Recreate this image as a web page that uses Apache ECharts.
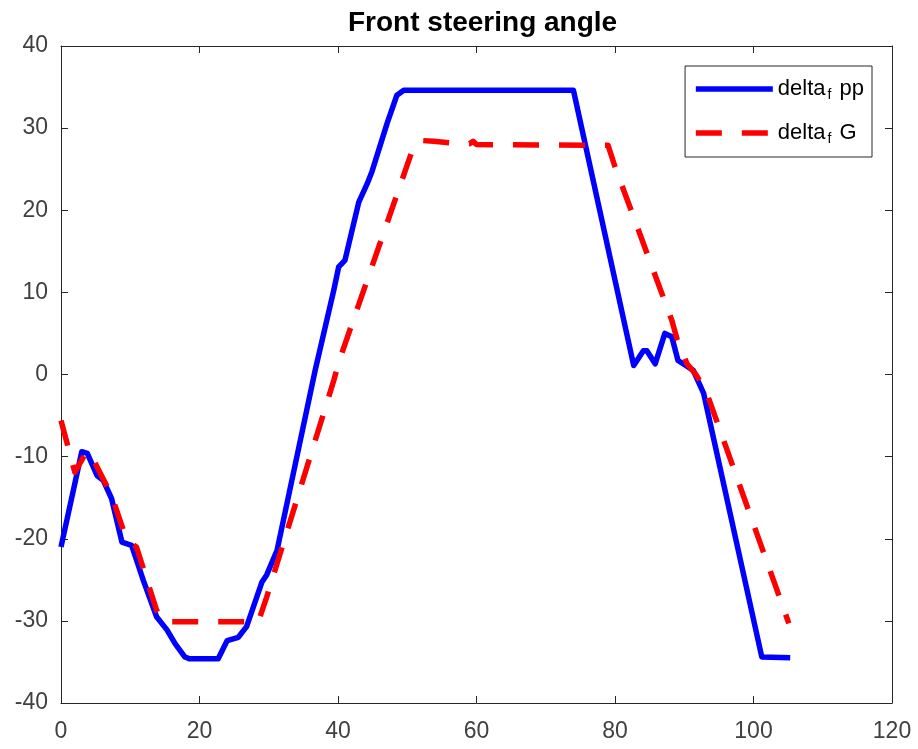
<!DOCTYPE html>
<html>
<head>
<meta charset="utf-8">
<script src="https://cdn.jsdelivr.net/npm/echarts@6/dist/echarts.min.js"></script>
<style>
  html, body { margin: 0; padding: 0; background: #fff; }
  #chart { width: 918px; height: 749px; }
</style>
</head>
<body>
<div id="chart"></div>
<script>
// delta_f pp (solid blue)
const ppX = [0, 3.0, 3.8, 5.2, 6.1, 7.3, 8.8, 10.2, 11.9, 13.8, 15.3, 16.5, 17.9, 18.5, 22.7, 24.0, 25.6, 26.8, 29.0, 29.7, 31.2, 36.7, 39.4, 40.1, 41.0, 43.0, 44.2, 44.9, 47.1, 48.5, 49.5, 74.0, 82.7, 84.1, 84.6, 85.8, 87.2, 88.2, 89.1, 90.6, 91.3, 92.8, 101.2, 105.3];
const ppY = [-21.0, -9.4, -9.6, -12.3, -12.9, -15.1, -20.4, -20.8, -25.1, -29.5, -31.1, -32.8, -34.4, -34.6, -34.6, -32.4, -32.0, -30.7, -25.3, -24.4, -21.4, 0.5, 10.3, 13.1, 13.9, 21.0, 23.2, 24.7, 30.6, 34.0, 34.6, 34.6, 1.1, 2.9, 2.9, 1.3, 5.0, 4.6, 1.7, 0.9, 0.5, -2.3, -34.4, -34.5];

// delta_f G (dashed red)
const gX = [0, 2.0, 3.7, 4.2, 7.3, 9.5, 10.9, 13.8, 14.8, 28.5, 29.7, 39.4, 40.1, 50.9, 51.9, 53.8, 57.7, 59.0, 59.5, 60.0, 79.0, 80.0, 88.2, 89.0, 90.4, 91.6, 93.1, 105.1];
const gY = [-5.6, -11.9, -9.4, -9.6, -14.7, -20.2, -21.0, -28.7, -30.1, -30.1, -27.1, -0.7, 1.5, 27.7, 28.5, 28.4, 28.1, 28.1, 28.4, 28.0, 27.9, 25.3, 6.6, 4.2, 1.3, 0.1, -1.9, -30.3];

const seriesNames = ['delta_f pp', 'delta_f G'];

const chart = echarts.init(document.getElementById('chart'));

const axisColor = '#262626';
const labelColor = '#404040';
const font = 'Liberation Sans, Arial, Helvetica, sans-serif';

const xBase = {
  type: 'value', min: 0, max: 120, interval: 20,
  axisLine: { show: true, onZero: false, lineStyle: { color: axisColor, width: 1 } },
  axisTick: { show: true, inside: true, length: 7, lineStyle: { color: axisColor } },
  splitLine: { show: false }
};
const yBase = {
  type: 'value', min: -40, max: 40, interval: 10,
  axisLine: { show: true, onZero: false, lineStyle: { color: axisColor, width: 1 } },
  axisTick: { show: true, inside: true, length: 7, lineStyle: { color: axisColor } },
  splitLine: { show: false }
};

const option = {
  backgroundColor: '#fff',
  animation: false,
  title: {
    text: 'Front steering angle',
    left: 343,
    top: 4,
    textStyle: { fontFamily: font, fontSize: 28, fontWeight: 'bold', color: '#000' }
  },
  legend: {
    orient: 'vertical',
    right: 46,
    top: 66,
    padding: [12, 8, 11, 8],
    itemGap: 20,
    itemWidth: 77,
    itemHeight: 14,
    backgroundColor: '#fff',
    borderColor: axisColor,
    borderWidth: 1,
    borderRadius: 0,
    data: seriesNames,
    itemStyle: { opacity: 0 },
    lineStyle: { width: 5.5 },
    formatter: name => name.replace('_f', '{sub|f}'),
    textStyle: {
      fontFamily: font, fontSize: 22, color: '#000',
      rich: {
        sub: { fontFamily: font, fontSize: 14, color: '#000', padding: [12, 2, 0, 2] }
      }
    }
  },
  grid: { left: 61, right: 26, top: 46, bottom: 46 },
  xAxis: [
    Object.assign({}, xBase, {
      position: 'bottom',
      axisLabel: { show: true, margin: 17, color: labelColor, fontSize: 23, fontFamily: font }
    }),
    Object.assign({}, xBase, { position: 'top', axisLabel: { show: false } })
  ],
  yAxis: [
    Object.assign({}, yBase, {
      position: 'left',
      axisLabel: { show: true, margin: 13, color: labelColor, fontSize: 23, fontFamily: font }
    }),
    Object.assign({}, yBase, { position: 'right', axisLabel: { show: false } })
  ],
  series: [
    {
      name: seriesNames[0],
      type: 'line',
      xAxisIndex: 0, yAxisIndex: 0,
      symbol: 'none',
      data: ppX.map((x, i) => [x, ppY[i]]),
      lineStyle: { color: '#0000ff', width: 5.5, cap: 'butt', join: 'round' },
      itemStyle: { color: '#0000ff' },
      z: 2
    },
    {
      name: seriesNames[1],
      type: 'line',
      xAxisIndex: 0, yAxisIndex: 0,
      symbol: 'none',
      data: gX.map((x, i) => [x, gY[i]]),
      lineStyle: { color: '#ff0000', width: 5.5, type: [26, 20], cap: 'butt', join: 'round' },
      itemStyle: { color: '#ff0000' },
      z: 3
    }
  ]
};

chart.setOption(option);
</script>
</body>
</html>
